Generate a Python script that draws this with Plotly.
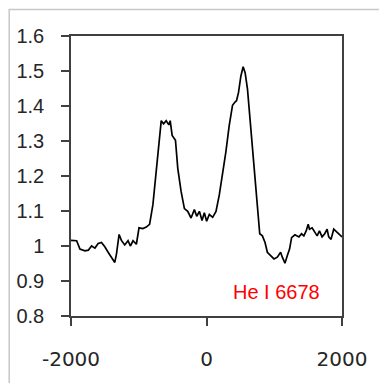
import plotly.graph_objects as go

velocity = [-2000, -1917, -1868, -1794, -1745, -1696, -1647, -1599, -1550, -1501,
            -1452, -1378, -1354, -1329, -1290, -1256, -1207, -1158, -1124, -1084,
            -1035, -996, -938, -889, -840, -791, -742, -703, -668, -634,
            -595, -556, -536, -507, -458, -424, -375, -326, -277, -228,
            -179, -144, -105, -66, -32, 2, 42, 91, 140, 189,
            238, 286, 335, 384, 424, 443, 472, 507, 541, 570,
            605, 639, 678, 727, 766, 786, 825, 864, 898, 947,
            996, 1045, 1094, 1119, 1158, 1192, 1226, 1256, 1305, 1364,
            1403, 1437, 1471, 1501, 1520, 1559, 1599, 1633, 1667, 1706,
            1745, 1780, 1804, 1838, 1878, 1927, 1961, 2000]
flux = [1.016, 1.015, 0.991, 0.986, 0.988, 1.000, 0.994, 1.007, 1.010, 0.998,
        0.982, 0.958, 0.953, 0.977, 1.033, 1.016, 1.003, 1.015, 1.000, 1.015,
        1.005, 1.052, 1.050, 1.054, 1.062, 1.118, 1.212, 1.288, 1.358, 1.349,
        1.358, 1.346, 1.358, 1.316, 1.302, 1.222, 1.156, 1.107, 1.099, 1.080,
        1.104, 1.085, 1.099, 1.073, 1.095, 1.071, 1.090, 1.082, 1.099, 1.146,
        1.203, 1.269, 1.344, 1.402, 1.412, 1.415, 1.438, 1.485, 1.512, 1.495,
        1.448, 1.372, 1.278, 1.175, 1.099, 1.035, 1.029, 1.010, 0.982, 0.972,
        0.963, 0.968, 0.982, 0.968, 0.951, 0.972, 0.991, 1.024, 1.032, 1.026,
        1.035, 1.029, 1.043, 1.062, 1.048, 1.052, 1.038, 1.029, 1.043, 1.026,
        1.035, 1.048, 1.026, 1.019, 1.048, 1.038, 1.032, 1.026]

x_ticks = [-2000, 0, 2000]
x_labels = ["-2000", "0", "2000"]
y_ticks = [0.8, 0.9, 1.0, 1.1, 1.2, 1.3, 1.4, 1.5, 1.6]
y_labels = ["0.8", "0.9", "1", "1.1", "1.2", "1.3", "1.4", "1.5", "1.6"]
label_text = "He I 6678"

fig = go.Figure()
fig.add_trace(go.Scatter(x=velocity, y=flux, mode="lines",
                         line=dict(color="black", width=1.7), showlegend=False,
                         hoverinfo="skip"))

fig.update_layout(
    width=379, height=383,
    margin=dict(l=71, r=36, t=36, b=64),
    paper_bgcolor="white", plot_bgcolor="white",
    xaxis=dict(range=[-2000, 2000], tickvals=x_ticks, ticktext=x_labels,
               showgrid=False, zeroline=False, showline=True, mirror=True,
               linecolor="#404040", linewidth=1.5,
               ticks="outside", ticklen=8, tickwidth=1.5, tickcolor="#404040",
               ticklabelstandoff=16,
               tickfont=dict(family="DejaVu Sans", size=20, color="#262626")),
    yaxis=dict(range=[0.8, 1.6], tickvals=y_ticks, ticktext=y_labels,
               showgrid=False, zeroline=False, showline=True, mirror=True,
               linecolor="#404040", linewidth=1.5,
               ticks="outside", ticklen=8, tickwidth=1.5, tickcolor="#404040",
               ticklabelstandoff=13,
               tickfont=dict(family="Liberation Sans", size=20, color="#262626")),
    annotations=[dict(x=0.757, y=0.085, xref="paper", yref="paper",
                      xanchor="center", yanchor="middle",
                      text=label_text, showarrow=False,
                      font=dict(family="Liberation Sans", size=20, color="#ff0000"))],
    shapes=[dict(type="rect", xref="paper", yref="paper",
                 x0=-0.228, x1=1.19, y0=-0.27, y1=1.095,
                 line=dict(color="#c8c8c8", width=1.5))],
)

fig.write_html("out.html")
